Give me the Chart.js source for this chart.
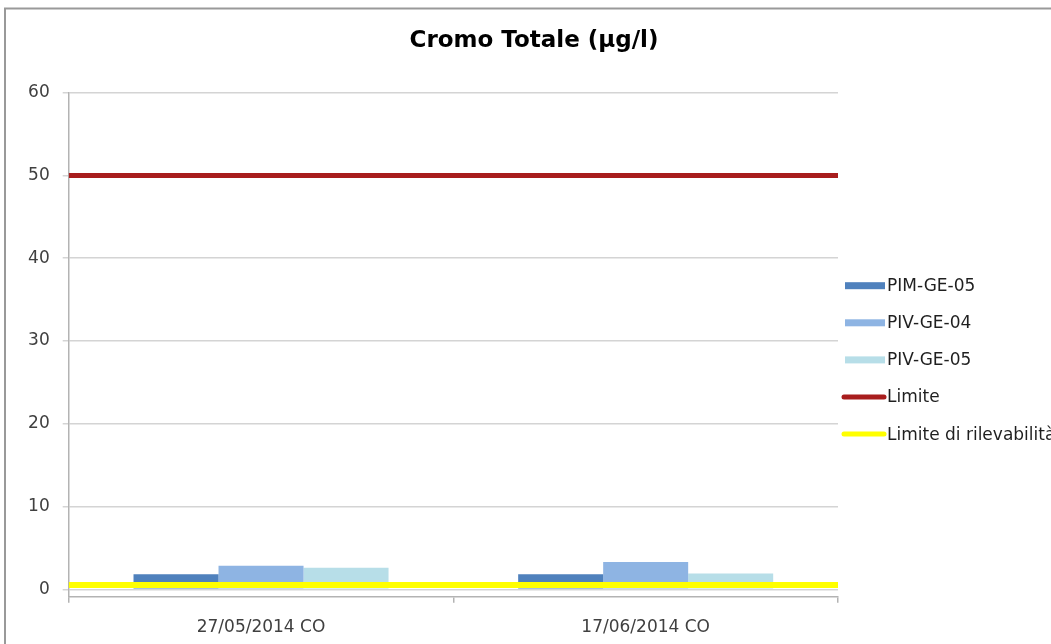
<!DOCTYPE html>
<html>
<head>
<meta charset="utf-8">
<script src="https://cdn.jsdelivr.net/npm/chart.js@4/dist/chart.umd.min.js"></script>
<style>
  html, body { margin: 0; padding: 0; background: #fff; }
  #wrap { position: relative; width: 1051px; height: 644px; overflow: hidden; }
  canvas { display: block; }
</style>
</head>
<body>
<div id="wrap"><canvas id="c" width="1051" height="644"></canvas></div>
<script>
// ---- data ----
const categories = ['27/05/2014 CO', '17/06/2014 CO'];
const pimGe05 = [1.8, 1.8];
const pivGe04 = [2.85, 3.3];
const pivGe05 = [2.6, 1.9];
const limite = [50, 50];
const limiteRilevabilita = [0.5, 0.5];
const yTicks = [0, 10, 20, 30, 40, 50, 60];
const titleText = 'Cromo Totale (µg/l)';

const FONT = "'DejaVu Sans', sans-serif";

// bars sit at category index; reference lines span the whole category range
const barPoints = vals => vals.map((v, i) => ({ x: i, y: v }));
const spanPoints = vals => vals.map((v, i) => ({ x: i === 0 ? -0.5 : categories.length - 0.5, y: v }));

// outer frame (left + top border of the chart object)
const framePlugin = {
  id: 'frame',
  beforeDraw(chart) {
    const ctx = chart.ctx;
    ctx.save();
    ctx.fillStyle = '#fff';
    ctx.fillRect(0, 0, chart.width, chart.height);
    ctx.strokeStyle = '#999999';
    ctx.lineWidth = 2;
    ctx.beginPath();
    ctx.moveTo(5, chart.height);
    ctx.lineTo(5, 8.5);
    ctx.lineTo(chart.width, 8.5);
    ctx.stroke();
    ctx.restore();
  }
};

// legend at the right, Excel style; reserves its own layout box
const sideLegend = {
  id: 'sideLegend',
  beforeInit(chart) {
    const box = {
      position: 'right', weight: 10, fullSize: false,
      options: { stack: undefined, stackWeight: 1 },
      top: 0, left: 0, right: 0, bottom: 0, width: 0, height: 0,
      isHorizontal() { return false; },
      update(maxWidth, maxHeight) { this.width = 213; this.height = maxHeight; },
      getPadding() { return { top: 0, left: 0, right: 0, bottom: 0 }; },
      draw() {}
    };
    Chart.layouts.addBox(chart, box);
  },
  afterDraw(chart) {
    const ctx = chart.ctx;
    const x0 = 845, y0 = 285.7, step = 37.1;
    ctx.save();
    ctx.font = '17px ' + FONT;
    ctx.textBaseline = 'middle';
    ctx.textAlign = 'left';
    chart.data.datasets.forEach((ds, i) => {
      const y = y0 + i * step;
      if (ds.type === 'line') {
        ctx.strokeStyle = ds.borderColor;
        ctx.lineWidth = 5;
        ctx.lineCap = 'round';
        ctx.beginPath();
        ctx.moveTo(844, y);
        ctx.lineTo(884, y);
        ctx.stroke();
      } else {
        ctx.fillStyle = ds.backgroundColor;
        ctx.fillRect(x0, y - 3.5, 40, 7);
      }
      ctx.fillStyle = '#1f1f1f';
      ctx.fillText(ds.label, 887, y + 1);
    });
    ctx.restore();
  }
};

new Chart(document.getElementById('c'), {
  data: {
    labels: categories,
    datasets: [
      { type: 'bar', label: 'PIM-GE-05', data: barPoints(pimGe05), xAxisID: 'x', backgroundColor: '#4F81BD', order: 1,
        barPercentage: 1, categoryPercentage: 0.663 },
      { type: 'bar', label: 'PIV-GE-04', data: barPoints(pivGe04), xAxisID: 'x', backgroundColor: '#8EB4E3', order: 1,
        barPercentage: 1, categoryPercentage: 0.663 },
      { type: 'bar', label: 'PIV-GE-05', data: barPoints(pivGe05), xAxisID: 'x', backgroundColor: '#B7DEE8', order: 1,
        barPercentage: 1, categoryPercentage: 0.663 },
      { type: 'line', label: 'Limite', data: spanPoints(limite), xAxisID: 'x', borderColor: '#A81D1D',
        backgroundColor: '#A81D1D', borderWidth: 5, pointRadius: 0, order: 0 },
      { type: 'line', label: 'Limite di rilevabilità', data: spanPoints(limiteRilevabilita), xAxisID: 'x',
        borderColor: '#FFFF00', backgroundColor: '#FFFF00', borderWidth: 6, pointRadius: 0, order: 0 }
    ]
  },
  options: {
    responsive: false,
    animation: false,
    layout: { padding: { left: 17, right: 0, top: 0, bottom: 0 } },
    plugins: {
      legend: { display: false },
      tooltip: { enabled: false },
      title: {
        display: true,
        text: titleText,
        color: '#000',
        font: { family: FONT, size: 23, weight: 'bold' },
        padding: { top: 27, bottom: 38 }
      }
    },
    scales: {
      x: {
        type: 'linear',
        min: -0.5,
        max: categories.length - 0.5,
        offset: false,
        grid: { offset: false },
        display: false,
        afterBuildTicks(scale) { scale.ticks = categories.map((c, i) => ({ value: i })); }
      },
      xCat: {
        type: 'category',
        position: 'bottom',
        labels: categories,
        offset: true,
        afterFit(scale) { scale.height = 47.3; },
        grid: { offset: true, drawOnChartArea: false, tickLength: 6, color: '#b3b3b3', lineWidth: 1.5 },
        border: { display: true, color: '#b3b3b3', width: 1.5 },
        ticks: { color: '#404040', font: { family: FONT, size: 17 }, padding: 15, maxRotation: 0 }
      },
      y: {
        type: 'linear',
        min: -0.9,
        max: 60,
        afterBuildTicks(scale) { scale.ticks = yTicks.map(v => ({ value: v })); },
        afterFit(scale) { scale.width = 51.7; },
        grid: { color: '#d4d4d4', lineWidth: 1.5, tickLength: 6 },
        border: { display: true, color: '#b3b3b3', width: 1.5 },
        ticks: { color: '#404040', font: { family: FONT, size: 17 }, padding: 13 }
      }
    }
  },
  plugins: [framePlugin, sideLegend]
});
</script>
</body>
</html>
